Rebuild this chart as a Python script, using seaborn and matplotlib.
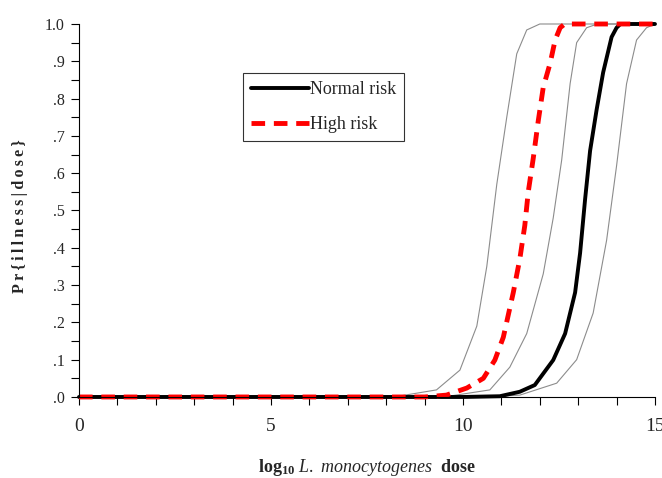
import matplotlib
matplotlib.use("Agg")
import matplotlib.pyplot as plt
import seaborn as sns

# values (log10 dose, Pr{illness|dose})
dose_normal = [0, 10.0, 10.96, 11.48, 11.87, 12.35, 12.66, 12.92, 13.05, 13.18, 13.31, 13.48, 13.65, 13.87, 14.0, 14.1, 15]
p_normal = [0, 0, 0.002, 0.014, 0.032, 0.099, 0.17, 0.28, 0.386, 0.53, 0.66, 0.77, 0.87, 0.965, 0.99, 1.0, 1.0]

dose_high = [0, 9.0, 9.57, 10.1, 10.53, 10.83, 11.05, 11.31, 11.48, 11.61, 11.7, 11.83, 11.96, 12.09, 12.27, 12.4, 12.53, 12.65, 15]
p_high = [0, 0, 0.005, 0.024, 0.05, 0.099, 0.16, 0.28, 0.37, 0.46, 0.55, 0.64, 0.74, 0.83, 0.895, 0.957, 0.99, 1.0, 1.0]

dose_lo = [0, 8.2, 9.31, 9.92, 10.36, 10.62, 10.88, 11.14, 11.4, 11.66, 12.0, 15]
p_lo = [0, 0, 0.019, 0.072, 0.19, 0.35, 0.57, 0.75, 0.92, 0.984, 1.0, 1.0]

dose_mid = [0, 9.5, 10.7, 11.22, 11.66, 12.09, 12.35, 12.57, 12.79, 12.96, 13.22, 13.5, 15]
p_mid = [0, 0, 0.019, 0.08, 0.17, 0.33, 0.48, 0.635, 0.84, 0.95, 0.99, 1.0, 1.0]

dose_hi = [0, 10.5, 11.48, 12.44, 12.96, 13.39, 13.74, 14.0, 14.26, 14.52, 14.78, 15]
p_hi = [0, 0, 0.005, 0.037, 0.1, 0.225, 0.42, 0.62, 0.84, 0.957, 0.99, 1.0]

ytick_vals = [i / 10 for i in range(11)]
ytick_labels = [".0", ".1", ".2", ".3", ".4", ".5", ".6", ".7", ".8", ".9", "1.0"]
xtick_vals = [0, 5, 10, 15]

sns.set_theme(style="ticks")
plt.rcParams["font.family"] = ["Liberation Serif", "DejaVu Serif"]
plt.rcParams["mathtext.fontset"] = "custom"
plt.rcParams["mathtext.rm"] = "Liberation Serif"
plt.rcParams["mathtext.it"] = "Liberation Serif:italic"
plt.rcParams["mathtext.bf"] = "Liberation Serif:bold"

fig = plt.figure(figsize=(6.62, 4.78), dpi=100)
ax = fig.add_axes([0.1193, 0.1695, 0.8701, 0.7803])

# uncertainty bounds
for dx, py in [(dose_lo, p_lo), (dose_mid, p_mid), (dose_hi, p_hi)]:
    sns.lineplot(x=dx, y=py, ax=ax, color="#8c8c8c", linewidth=0.8,
                 sort=False, estimator=None, clip_on=False)

sns.lineplot(x=dose_normal, y=p_normal, ax=ax, color="black", linewidth=2.8,
             sort=False, estimator=None, label="Normal risk", clip_on=False)
sns.lineplot(x=dose_high, y=p_high, ax=ax, color="#ff0000", linewidth=3.5,
             sort=False, estimator=None, label="High risk", clip_on=False)
ax.lines[-1].set_dashes((2.8, 1.8))
ax.lines[-1].set_solid_capstyle("butt")

ax.set_xlim(0, 15)
ax.set_ylim(0, 1.0)
ax.set_xticks(xtick_vals)
ax.set_xticks(range(16), minor=True)
ax.set_yticks(ytick_vals)
ax.set_yticklabels(ytick_labels)
ax.set_yticks([0.05 + i / 10 for i in range(10)], minor=True)

ax.tick_params(axis="both", which="both", direction="out", length=5.5, width=0.8,
               color="black")
ax.tick_params(axis="x", which="major", pad=9.5, labelsize=14)
ax.tick_params(axis="y", which="major", pad=5, labelsize=11.5)

for s in ["top", "right"]:
    ax.spines[s].set_visible(False)
for s in ["left", "bottom"]:
    ax.spines[s].set_color("black")
    ax.spines[s].set_linewidth(0.8)

# letter-spaced bold label as in the reference
ylab = "\u2009".join("Pr{illness|dose}")
ax.set_ylabel(ylab, fontsize=11.5, fontweight="bold")
ax.yaxis.set_label_coords(-0.088, 0.485)
ax.set_xlabel(r"$\mathbf{log_{10}}$ $\mathit{L.\ monocytogenes}$  $\mathbf{dose}$",
              fontsize=13)
ax.xaxis.set_label_coords(0.5, -0.160)

leg = ax.legend(loc="upper left", bbox_to_anchor=(0.285, 0.869), borderaxespad=0,
                fontsize=13, handlelength=3.2, handletextpad=0.05, labelspacing=1.0,
                fancybox=False, frameon=True, borderpad=0.45)
leg.get_frame().set_edgecolor("black")
leg.get_frame().set_linewidth(0.8)

fig.savefig("out.png", dpi=100)
